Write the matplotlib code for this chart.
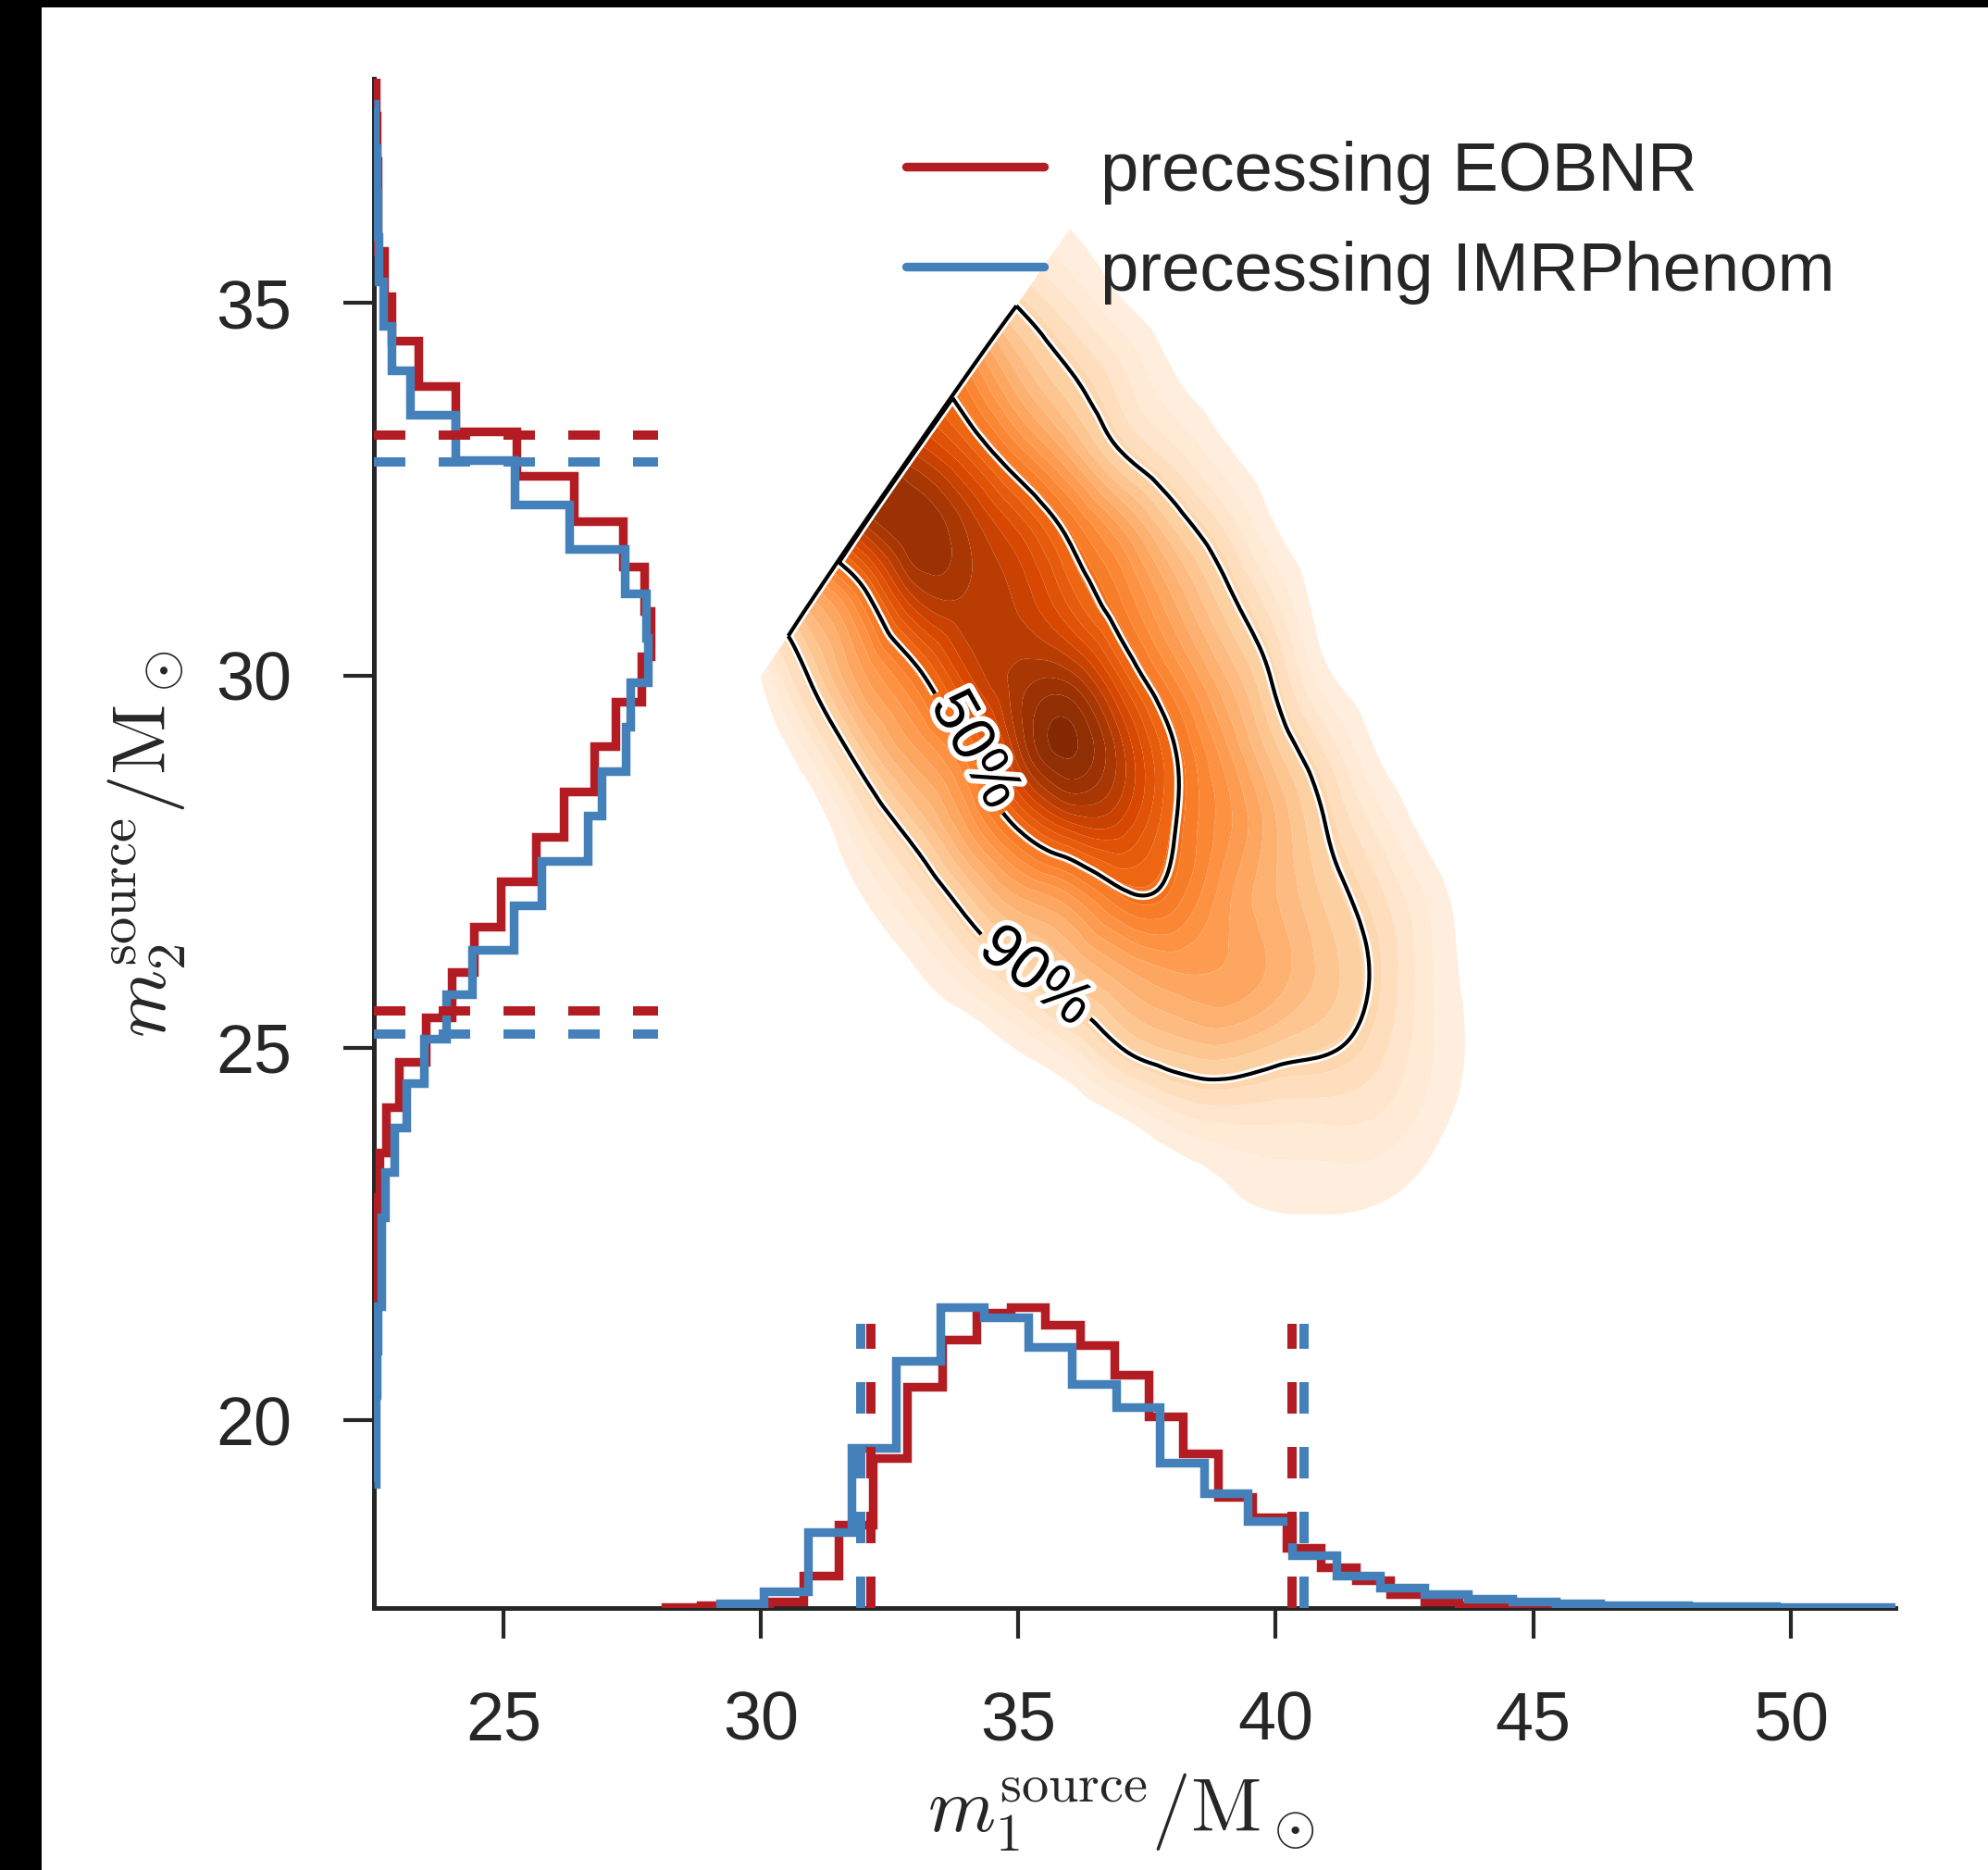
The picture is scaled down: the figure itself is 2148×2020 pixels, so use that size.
"""Source-frame component masses: 2D posterior density with marginal histograms."""

import matplotlib
matplotlib.use("Agg")
import matplotlib.pyplot as plt
import matplotlib.tri as mtri
import matplotlib.patheffects as pe
from matplotlib.lines import Line2D
from matplotlib.patches import Rectangle
import numpy as np

plt.rcParams["font.family"] = ["Liberation Sans", "DejaVu Sans"]
plt.rcParams["mathtext.fontset"] = "cm"

RED = "#b21c22"
BLUE = "#4480b9"
INK = "#262626"

# m1 marginal histograms (bottom), heights relative to the peak
m1_eob_start, m1_eob_width = 28.15, 0.67
m1_eob = [0.004, 0.008, 0.01, 0.02, 0.107, 0.276, 0.495, 0.73, 0.888, 0.974,
          0.995, 0.934, 0.867, 0.77, 0.633, 0.51, 0.367, 0.30, 0.2, 0.133,
          0.092, 0.046, 0.02, 0.01, 0.006, 0.005, 0.004, 0.003, 0.002, 0.002]
m1_imr_start, m1_imr_width = 29.2, 0.855
m1_imr = [0.015, 0.056, 0.25, 0.53, 0.816, 0.995, 0.96, 0.862, 0.74, 0.663,
          0.48, 0.378, 0.286, 0.173, 0.107, 0.066, 0.046, 0.031, 0.02, 0.015,
          0.01, 0.008, 0.006, 0.005, 0.004, 0.003, 0.003]

# m2 marginal histograms (left), ascending m2, widths relative to the peak
m2_eob_start, m2_eob_width = 19.97, 0.605
m2_eob = [0.003, 0.005, 0.006, 0.006, 0.01, 0.019, 0.045, 0.089, 0.187, 0.282,
          0.36, 0.458, 0.586, 0.686, 0.797, 0.874, 0.966, 1.0, 0.977, 0.9,
          0.723, 0.516, 0.294, 0.16, 0.065, 0.038, 0.013, 0.013, 0.01, 0.006]
m2_imr_start, m2_imr_width = 19.142, 0.598
m2_imr = [0.005, 0.006, 0.009, 0.014, 0.025, 0.025, 0.041, 0.073, 0.116, 0.182,
          0.262, 0.355, 0.505, 0.605, 0.772, 0.822, 0.91, 0.928, 0.989, 0.983,
          0.905, 0.705, 0.51, 0.294, 0.132, 0.065, 0.032, 0.016, 0.013, 0.01,
          0.003]

# 90% credible bounds
m1_bounds_eob = [32.14, 40.32]
m1_bounds_imr = [31.94, 40.54]
m2_bounds_eob = [25.50, 33.22]
m2_bounds_imr = [25.19, 32.86]

# 2D posterior density (relative to the peak), zero where m2 > m1
kde_m1 = np.arange(29.0, 46.0)
kde_m2 = np.arange(22.0, 38.0)
kde_density = np.array([
    # m1: 29  30     31    32    33     34    35     36    37     38     39    40     41     42     43     44     45
    [0, 0,     0,    0,    0,     0,    0,     0,    0,     0,     0,    0,     0,     0,     0,     0,     0],  # 22
    [0, 0,     0,    0,    0,     0,    0,     0,    0,     0,     0.03, 0.05,  0.052, 0.045, 0.02,  0,     0],  # 23
    [0, 0,     0,    0,    0,     0,    0,     0,    0.03,  0.09,  0.12, 0.12,  0.12,  0.11,  0.06,  0.015, 0],  # 24
    [0, 0,     0,    0,    0,     0,    0.045, 0.11, 0.22,  0.28,  0.30, 0.26,  0.23,  0.17,  0.085, 0.025, 0],  # 25
    [0, 0,     0,    0,    0.035, 0.11, 0.20,  0.29, 0.37,  0.42,  0.42, 0.37,  0.29,  0.20,  0.085, 0.02,  0],  # 26
    [0, 0,     0,    0.04, 0.13,  0.26, 0.38,  0.45, 0.57,  0.56,  0.44, 0.35,  0.26,  0.17,  0.07,  0.01,  0],  # 27
    [0, 0,     0.01, 0.13, 0.27,  0.43, 0.62,  0.76, 0.76,  0.61,  0.48, 0.35,  0.215, 0.10,  0.02,  0,     0],  # 28
    [0, 0,     0.10, 0.28, 0.42,  0.57, 0.84,  0.97, 0.82,  0.61,  0.44, 0.28,  0.146, 0.035, 0.005, 0,     0],  # 29
    [0, 0.045, 0.24, 0.42, 0.57,  0.76, 0.86,  0.86, 0.68,  0.50,  0.35, 0.20,  0.05,  0.01,  0,     0,     0],  # 30
    [0, 0,     0.38, 0.56, 0.80,  0.84, 0.80,  0.68, 0.54,  0.39,  0.25, 0.12,  0.01,  0,     0,     0,     0],  # 31
    [0, 0,     0,    0.84, 0.92,  0.84, 0.72,  0.57, 0.42,  0.27,  0.15, 0.04,  0.005, 0,     0,     0,     0],  # 32
    [0, 0,     0,    0,    0.80,  0.68, 0.52,  0.37, 0.22,  0.13,  0.05, 0.01,  0,     0,     0,     0,     0],  # 33
    [0, 0,     0,    0,    0,     0.52, 0.35,  0.23, 0.13,  0.045, 0.01, 0,     0,     0,     0,     0,     0],  # 34
    [0, 0,     0,    0,    0,     0,    0.21,  0.12, 0.045, 0.01,  0,    0,     0,     0,     0,     0,     0],  # 35
    [0, 0,     0,    0,    0,     0,    0,     0.04, 0.01,  0,     0,    0,     0,     0,     0,     0,     0],  # 36
    [0, 0,     0,    0,    0,     0,    0,     0,    0,     0,     0,    0,     0,     0,     0,     0,     0],  # 37
])
level_lowest, level_90, level_50 = 0.04, 0.22, 0.60
label_spots = [(35.42, 26.03), (34.19, 29.01)]

legend_labels = ["precessing EOBNR", "precessing IMRPhenom"]


def build_density_mesh():
    """Triangulate the density grid with cell diagonals along m1 = m2."""
    gx, gy = np.meshgrid(kde_m1, kde_m2)
    x, y, z = gx.ravel(), gy.ravel(), kde_density.ravel()
    nx, ny = len(kde_m1), len(kde_m2)
    tris = []
    for j in range(ny - 1):
        for i in range(nx - 1):
            a = j * nx + i
            tris.append([a, a + 1, a + nx + 1])
            tris.append([a, a + nx + 1, a + nx])
    tris = np.array(tris)
    triang = mtri.Triangulation(x, y, tris)
    triang.set_mask(y[tris].mean(axis=1) > x[tris].mean(axis=1))
    interp = mtri.CubicTriInterpolator(triang, z)
    tri_f = mtri.UniformTriRefiner(triang).refine_triangulation(subdiv=4)
    # evaluate a hair inside the m1 >= m2 region so edge nodes get real values
    shift = 1e-7
    z_f = np.ma.filled(interp(tri_f.x + shift, tri_f.y - shift), 0.0)
    # unmasked copy with zero density past the m1 = m2 edge, for the outlines
    tri_l = mtri.Triangulation(tri_f.x, tri_f.y, tri_f.triangles)
    z_l = np.where(tri_f.y > tri_f.x + 1e-9, 0.0, z_f)
    return tri_f, z_f, tri_l, z_l


def main():
    fig = plt.figure(figsize=(10.74, 10.10), dpi=200)
    ax = fig.add_axes([0.1881, 0.1401, 0.7654, 0.8178])
    ax.set_xlim(22.48, 52.04)
    ax.set_ylim(17.48, 38.01)

    # density
    tri_f, z_f, tri_l, z_l = build_density_mesh()
    levels = np.linspace(level_lowest, max(z_f.max(), 1.0), 26)
    ax.tricontourf(tri_f, z_f, levels=levels, cmap="Oranges",
                   norm=plt.Normalize(0.0, 1.0), antialiased=True)
    cs = ax.tricontour(tri_l, z_l, levels=[level_90, level_50],
                       colors="k", linewidths=1.5)
    cs.set_path_effects([pe.Stroke(linewidth=3.4, foreground="white"),
                         pe.Normal()])
    texts = ax.clabel(cs, fmt={level_90: "90%", level_50: "50%"},
                      manual=label_spots, inline=True, fontsize=24,
                      inline_spacing=8)
    for t in texts:
        t.set_path_effects([pe.withStroke(linewidth=4, foreground="white")])

    # axes styling
    for side in ("top", "right"):
        ax.spines[side].set_visible(False)
    for side in ("left", "bottom"):
        ax.spines[side].set_linewidth(1.8)
        ax.spines[side].set_color(INK)
    ax.set_xticks([25, 30, 35, 40, 45, 50])
    ax.set_yticks([20, 25, 30, 35])
    ax.tick_params(direction="out", length=12, width=1.5, pad=20,
                   labelsize=26.5, colors=INK)
    ax.set_xlabel(r"$m_1^{\rm source}/{\rm M}_\odot$", fontsize=30, color=INK)
    ax.set_ylabel(r"$m_2^{\rm source}/{\rm M}_\odot$", fontsize=30, color=INK)
    ax.xaxis.set_label_coords(0.491, -0.107)
    ax.yaxis.set_label_coords(-0.122, 0.5)

    # bottom marginal (m1)
    ax_b = ax.twinx()
    ax_b.set_ylim(0, 1 / 0.198)
    ax_b.axis("off")
    for vals, start, width, col in ((m1_eob, m1_eob_start, m1_eob_width, RED),
                                    (m1_imr, m1_imr_start, m1_imr_width, BLUE)):
        edges = start + width * np.arange(len(vals) + 1)
        ax_b.stairs(vals, edges, baseline=0, fill=False, color=col,
                    linewidth=3.4, joinstyle="miter")
    for bounds, col in ((m1_bounds_eob, RED), (m1_bounds_imr, BLUE)):
        ax_b.vlines(bounds, 0, 0.94, colors=col, linewidth=3.6,
                    linestyles=(0, (3.4, 3.6)))

    # left marginal (m2)
    ax_l = ax.twiny()
    ax_l.set_xlim(0, 5.5)
    ax_l.axis("off")
    for vals, start, width, col in ((m2_eob, m2_eob_start, m2_eob_width, RED),
                                    (m2_imr, m2_imr_start, m2_imr_width, BLUE)):
        edges = start + width * np.arange(len(vals) + 1)
        ax_l.stairs(vals, edges, orientation="horizontal", baseline=0,
                    fill=False, color=col, linewidth=3.4, joinstyle="miter")
    for bounds, col in ((m2_bounds_eob, RED), (m2_bounds_imr, BLUE)):
        ax_l.hlines(bounds, 0, 1.026, colors=col, linewidth=3.6,
                    linestyles=(0, (3.4, 3.6)))

    handles = [Line2D([], [], color=c, linewidth=3.4, solid_capstyle="round")
               for c in (RED, BLUE)]
    leg = ax_l.legend(handles, legend_labels, loc="upper left",
                      bbox_to_anchor=(0.4421, 0.9396),
                      bbox_transform=fig.transFigure, frameon=False,
                      fontsize=26.8, handlelength=2.0, handletextpad=0.82,
                      labelspacing=0.53, borderpad=0.4, borderaxespad=0)
    for t in leg.get_texts():
        t.set_color(INK)

    # dark strips along the left and top edge of the original image
    fig.add_artist(Rectangle((0, 0), 45 / 2148, 1, transform=fig.transFigure,
                             color="black", linewidth=0))
    fig.add_artist(Rectangle((0, 1 - 8 / 2020), 1, 8 / 2020,
                             transform=fig.transFigure, color="black",
                             linewidth=0))

    fig.savefig("out.png", dpi=200)
    plt.close(fig)


if __name__ == "__main__":
    main()
